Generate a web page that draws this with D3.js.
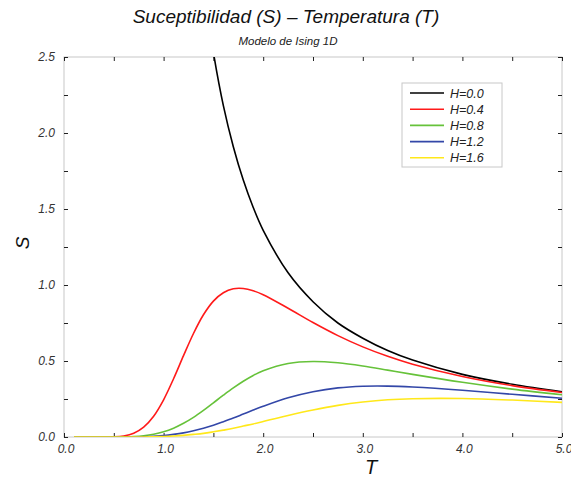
<html>
<head>
<meta charset="utf-8">
<script src="https://cdn.jsdelivr.net/npm/d3@7"></script>
<style>
    body { margin: 0; background: #fff; }
    text { font-family: "Liberation Sans", Arial, sans-serif; font-style: italic; }
    .frame { fill: none; stroke: #c8c8c8; stroke-width: 1; }
    .tick line { stroke: #222; }
</style>
</head>
<body>
<div id="chart"></div>
<script>
    // temperature grid
    var temps = [0.1, 0.3, 0.5, 0.6, 0.7, 0.8, 0.9, 1.0, 1.1, 1.2, 1.3, 1.4, 1.5, 1.6, 1.7, 1.8, 1.9, 2.0, 2.25, 2.5, 2.75, 3.0, 3.25, 3.5, 4.0, 4.5, 5.0];

    // susceptibility, one list per field
    var s_h00 = [null, null, null, null, null, null, null, null, null, null, null, 2.98, 2.53, 2.18, 1.91, 1.69, 1.51, 1.36, 1.08, 0.89, 0.75, 0.65, 0.569, 0.506, 0.412, 0.347, 0.298];
    var s_h04 = [0, 0, 0.001, 0.007, 0.025, 0.065, 0.137, 0.245, 0.383, 0.535, 0.681, 0.804, 0.894, 0.949, 0.975, 0.977, 0.962, 0.936, 0.847, 0.753, 0.667, 0.593, 0.531, 0.479, 0.398, 0.338, 0.293];
    var s_h08 = [0, 0, 0, 0.001, 0.003, 0.008, 0.018, 0.034, 0.058, 0.090, 0.129, 0.175, 0.225, 0.275, 0.323, 0.367, 0.405, 0.436, 0.484, 0.497, 0.488, 0.467, 0.440, 0.412, 0.360, 0.315, 0.278];
    var s_h12 = [0, 0, 0, 0, 0, 0.002, 0.005, 0.0095, 0.017, 0.027, 0.041, 0.058, 0.078, 0.101, 0.125, 0.151, 0.177, 0.202, 0.258, 0.298, 0.323, 0.334, 0.335, 0.329, 0.308, 0.281, 0.255];
    var s_h16 = [0, 0, 0, 0, 0, 0, 0.002, 0.0035, 0.0065, 0.011, 0.017, 0.024, 0.034, 0.045, 0.057, 0.072, 0.086, 0.102, 0.142, 0.178, 0.208, 0.230, 0.245, 0.252, 0.253, 0.243, 0.228];

    var labels = ["H=0.0", "H=0.4", "H=0.8", "H=1.2", "H=1.6"];
    var colors = ["#000000", "#ff1a1a", "#66c23a", "#3347a8", "#ffe81a"];
    var series = [s_h00, s_h04, s_h08, s_h12, s_h16];

    var xTickLabels = [0, 1, 2, 3, 4, 5];
    var yTickLabels = [0, 0.5, 1.0, 1.5, 2.0, 2.5];

    var W = 571, H = 477;
    var margin = {top: 57, right: 9, bottom: 40, left: 64};

    var svg = d3.select("#chart").append("svg")
        .attr("width", W)
        .attr("height", H);

    var x = d3.scaleLinear().domain([0, 5]).range([margin.left, W - margin.right]);
    var y = d3.scaleLinear().domain([0, 2.5]).range([H - margin.bottom, margin.top]);

    svg.append("defs").append("clipPath").attr("id", "plot-clip")
        .append("rect")
        .attr("x", x(0)).attr("y", y(2.5))
        .attr("width", x(5) - x(0)).attr("height", y(0) - y(2.5));

    // frame
    svg.append("rect").attr("class", "frame")
        .attr("x", x(0)).attr("y", y(2.5))
        .attr("width", x(5) - x(0)).attr("height", y(0) - y(2.5));

    var xMajor = d3.range(0, 5.01, 0.5);
    var yMajor = d3.range(0, 2.51, 0.25);

    // inward ticks on all four sides
    function tickAxis(axis, pos) {
        var g = svg.append("g").attr("transform", pos).call(axis);
        g.select(".domain").remove();
        g.selectAll("text").remove();
        return g;
    }
    tickAxis(d3.axisBottom(x).tickValues(xMajor).tickSizeInner(-4).tickSizeOuter(0), "translate(0," + y(0) + ")");
    tickAxis(d3.axisTop(x).tickValues(xMajor).tickSizeInner(-4).tickSizeOuter(0), "translate(0," + y(2.5) + ")");
    tickAxis(d3.axisLeft(y).tickValues(yMajor).tickSizeInner(-4).tickSizeOuter(0), "translate(" + x(0) + ",0)");
    tickAxis(d3.axisRight(y).tickValues(yMajor).tickSizeInner(-4).tickSizeOuter(0), "translate(" + x(5) + ",0)");

    // tick labels
    svg.append("g").selectAll("text")
        .data(xTickLabels).enter().append("text")
        .attr("x", function (d) { return x(d) + 2; })
        .attr("y", y(0) + 16)
        .attr("text-anchor", "middle")
        .attr("font-size", "12px")
        .attr("fill", "#333")
        .text(function (d) { return d3.format(".1f")(d); });

    svg.append("g").selectAll("text")
        .data(yTickLabels).enter().append("text")
        .attr("x", x(0) - 9)
        .attr("y", function (d) { return y(d) + 4; })
        .attr("text-anchor", "end")
        .attr("font-size", "12px")
        .attr("fill", "#333")
        .text(function (d) { return d3.format(".1f")(d); });

    // curves
    var line = d3.line()
        .defined(function (d) { return d[1] !== null; })
        .x(function (d) { return x(d[0]); })
        .y(function (d) { return y(d[1]); })
        .curve(d3.curveCatmullRom);

    svg.append("g").attr("clip-path", "url(#plot-clip)")
        .selectAll("path")
        .data(series).enter().append("path")
        .attr("fill", "none")
        .attr("stroke", function (d, i) { return colors[i]; })
        .attr("stroke-width", 1.6)
        .attr("d", function (vals) {
            return line(temps.map(function (t, j) { return [t, vals[j]]; }));
        });

    // legend
    var lg = svg.append("g").attr("transform", "translate(402,83)");
    lg.append("rect")
        .attr("width", 100).attr("height", 84)
        .attr("fill", "#fff").attr("stroke", "#c8c8c8");
    var rows = lg.selectAll(".row").data(labels).enter().append("g")
        .attr("transform", function (d, i) { return "translate(0," + (10 + i * 16.2) + ")"; });
    rows.append("line")
        .attr("x1", 8).attr("x2", 42)
        .attr("stroke", function (d, i) { return colors[i]; })
        .attr("stroke-width", 1.6);
    rows.append("text")
        .attr("x", 48).attr("y", 4.5)
        .attr("font-size", "12.5px")
        .attr("fill", "#222")
        .text(function (d) { return d; });

    // titles
    svg.append("text")
        .attr("x", 286).attr("y", 23)
        .attr("text-anchor", "middle")
        .attr("font-size", "19px")
        .attr("fill", "#111")
        .text("Suceptibilidad (S) \u2013 Temperatura (T)");

    svg.append("text")
        .attr("x", 288).attr("y", 45)
        .attr("text-anchor", "middle")
        .attr("font-size", "11.5px")
        .attr("fill", "#222")
        .text("Modelo de Ising 1D");

    svg.append("text")
        .attr("x", 371).attr("y", 474)
        .attr("text-anchor", "middle")
        .attr("font-size", "20px")
        .attr("fill", "#111")
        .text("T");

    svg.append("text")
        .attr("transform", "translate(29,243) rotate(-90)")
        .attr("text-anchor", "middle")
        .attr("font-size", "19px")
        .attr("fill", "#111")
        .text("S");
</script>
</body>
</html>
